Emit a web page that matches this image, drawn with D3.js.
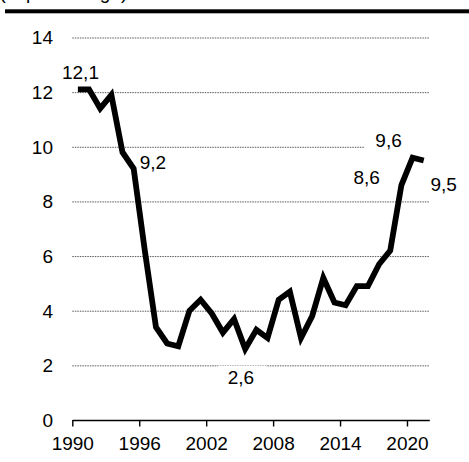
<!DOCTYPE html>
<html><head><meta charset="utf-8">
<script src="https://cdn.jsdelivr.net/npm/d3@7"></script>
<style>
html,body{margin:0;padding:0;background:#fff;}
svg{display:block;font-family:"Liberation Sans",Arial,sans-serif;}
</style></head>
<body>
<script>
const years = d3.range(1990, 2022);
const values = [12.1,12.1,11.4,11.9,9.8,9.2,6.2,3.4,2.8,2.7,4.0,4.4,3.9,3.2,3.7,2.6,3.3,3.0,4.4,4.7,3.0,3.8,5.2,4.3,4.2,4.9,4.9,5.7,6.2,8.6,9.6,9.5];
const yTicks = [0,2,4,6,8,10,12,14];
const xTicks = [1990,1996,2002,2008,2014,2020];
const subtitle = "(in percentage)";
const annotations = [
  {year:1990, text:"12,1", dx:2.6, dy:-17.5},
  {year:1995, text:"9,2", dx:19.3, dy:-6.8},
  {year:2005, text:"2,6", dx:-4.3, dy:27.7, box:[-23, -11, 22, 48]},
  {year:2019, text:"8,6", dx:-34.8, dy:-8.3},
  {year:2020, text:"9,6", dx:-24, dy:-17.5, box:[-24, -12, 20, 70]},
  {year:2021, text:"9,5", dx:20, dy:23.5}
];

const W = 469, H = 462;
const svg = d3.select("body").append("svg").attr("width", W).attr("height", H);

const x = d3.scaleLinear().domain([1990, 2022]).range([72.3, 429.3]);
const y = d3.scaleLinear().domain([0, 14]).range([420, 37.5]);
const fs = 19;

// subtitle (cut off at top, as in the reference)
svg.append("text").attr("x", -0.5).attr("y", -1).attr("font-size", fs).attr("fill","#000").text(subtitle);
// thick rule
svg.append("rect").attr("x", 5).attr("y", 9.3).attr("width", W - 5).attr("height", 4).attr("fill", "#000");

// gridlines
svg.append("g").selectAll("line").data(yTicks.filter(d => d > 0)).join("line")
  .attr("x1", x(1990)).attr("x2", x(2022))
  .attr("y1", d => y(d) + 0.5).attr("y2", d => y(d) + 0.5)
  .attr("stroke", "#5a5a5a").attr("stroke-width", 1).attr("stroke-dasharray", "1.5,1");

// y labels
svg.append("g").selectAll("text").data(yTicks).join("text")
  .attr("x", 53).attr("y", d => y(d)).attr("dy", "0.36em")
  .attr("text-anchor", "end").attr("font-size", fs).attr("fill", "#000")
  .text(d => d);

// x axis
const xa = svg.append("g").attr("transform", `translate(0,${y(0)})`)
  .call(d3.axisBottom(x).tickValues(xTicks).tickSize(6.5).tickSizeOuter(0).tickPadding(10.5).tickFormat(d3.format("d")));
xa.select(".domain").attr("stroke", "#000").attr("stroke-width", 1.4);
xa.selectAll(".tick line").attr("stroke", "#000").attr("stroke-width", 1.4);
xa.selectAll(".tick text").attr("font-size", fs).attr("fill", "#000").attr("font-family", "Liberation Sans, Arial, sans-serif");

const pts = years.map((yr, i) => ({yr, v: values[i]}));

// white boxes behind some labels (interrupt gridlines)
const labG = svg.append("g");
annotations.filter(a => a.box).forEach(a => {
  const i = years.indexOf(a.year);
  const cx = x(a.year + 0.5) + a.dx, cy = y(values[i]) + a.dy;
  labG.append("rect").attr("x", cx + a.box[0]).attr("y", cy + a.box[1])
    .attr("width", a.box[3]).attr("height", a.box[2]).attr("fill", "#fff");
});

// line
const line = d3.line().x(d => x(d.yr + 0.5)).y(d => y(d.v));
svg.append("path").datum(pts).attr("d", line)
  .attr("fill", "none").attr("stroke", "#000").attr("stroke-width", 5.8)
  .attr("stroke-linejoin", "miter").attr("stroke-miterlimit", 10);

// labels
annotations.forEach(a => {
  const i = years.indexOf(a.year);
  const cx = x(a.year + 0.5) + a.dx, cy = y(values[i]) + a.dy;
  svg.append("text").attr("x", cx).attr("y", cy).attr("dy", "0.36em")
    .attr("text-anchor", "middle").attr("font-size", fs).attr("fill", "#000").text(a.text);
});
</script>
</body></html>
